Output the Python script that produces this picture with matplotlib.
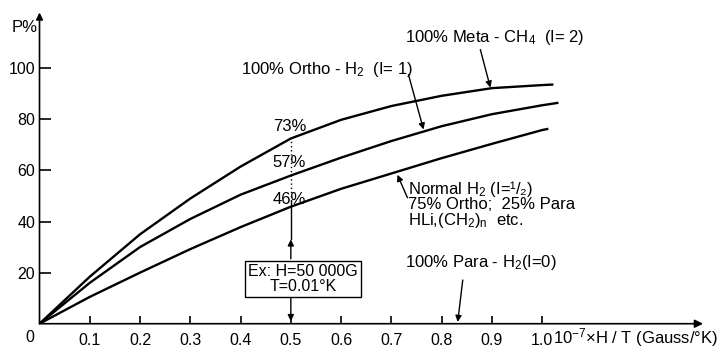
import matplotlib
matplotlib.use("Agg")
import matplotlib.pyplot as plt

plt.rcParams['font.family'] = ['Liberation Sans', 'DejaVu Sans']
plt.rcParams['mathtext.default'] = 'regular'
plt.rcParams['font.size'] = 11

# curves: x = 1e-7 * H/T, P in %
meta_x = [0, 0.1, 0.2, 0.3, 0.4, 0.5, 0.6, 0.7, 0.8, 0.9, 1.0, 1.02]
meta_p = [0, 18.4, 35, 49, 61.5, 72.5, 79.8, 85.2, 89.2, 92.2, 93.4, 93.6]

ortho_x = [0, 0.1, 0.2, 0.3, 0.4, 0.5, 0.6, 0.7, 0.8, 0.9, 1.0, 1.03]
ortho_p = [0, 16, 30, 41, 50.5, 58, 65, 71.5, 77.3, 82, 85.5, 86.4]

normal_x = [0, 0.1, 0.2, 0.3, 0.4, 0.5, 0.6, 0.7, 0.8, 0.9, 1.0, 1.01]
normal_p = [0, 10.5, 20, 29.2, 37.8, 45.8, 52.8, 58.8, 64.8, 70.4, 75.8, 76.2]

xticks = [0.1, 0.2, 0.3, 0.4, 0.5, 0.6, 0.7, 0.8, 0.9, 1.0]
xlabels = ['0.1', '0.2', '0.3', '0.4', '0.5', '0.6', '0.7', '0.8', '0.9', '1.0']
yticks = [20, 40, 60, 80, 100]

fig = plt.figure(figsize=(7.17, 3.5), dpi=100)
ax = fig.add_axes([0.0551, 0.0751, 0.9254, 0.8906])
ax.set_xlim(0, 1.32)
ax.set_ylim(0, 122)
for s in ax.spines.values():
    s.set_visible(False)

lw = 1.7
ax.plot(meta_x, meta_p, color='black', lw=lw)
ax.plot(ortho_x, ortho_p, color='black', lw=lw)
ax.plot(normal_x, normal_p, color='black', lw=lw)

# axes with arrows
ax.annotate('', xy=(1.32, 0), xytext=(0, 0), annotation_clip=False,
            arrowprops=dict(arrowstyle='-|>', lw=1.2, color='black', mutation_scale=12, shrinkA=0, shrinkB=0))
ax.annotate('', xy=(0, 121.8), xytext=(0, 0), annotation_clip=False,
            arrowprops=dict(arrowstyle='-|>', lw=1.2, color='black', mutation_scale=10, shrinkA=0, shrinkB=0))

ax.set_xticks(xticks)
ax.set_xticklabels(xlabels)
ax.set_yticks(yticks)
ax.tick_params(axis='x', direction='in', length=6, width=1.2, pad=7, labelsize=11.5)
ax.tick_params(axis='y', direction='in', length=8, width=1.2, pad=3, labelsize=11.5)

fs = 12
fig.text(30 / 717, 1 - 338 / 350, '0', ha='center', va='center', fontsize=11.5)
fig.text(12 / 717, 1 - 28 / 350, 'P%', va='center', fontsize=fs)
fig.text(553 / 717, 1 - 338 / 350, r'10$^{-7}$×H / T (Gauss/°K)', va='center', fontsize=fs)

arr = dict(arrowstyle='-|>', lw=1, color='black', mutation_scale=9, shrinkA=0, shrinkB=0)

# curve labels
ax.text(0.728, 112, '100% Meta - CH$_4$  (I= 2)', va='center', fontsize=fs)
ax.annotate('', xy=(0.897, 92.4), xytext=(0.877, 107.3), arrowprops=arr)

ax.text(0.4, 99.5, '100% Ortho - H$_2$  (I= 1)', va='center', fontsize=fs)
ax.annotate('', xy=(0.764, 76), xytext=(0.734, 97.5), arrowprops=arr)

ax.text(0.734, 52.6, 'Normal H$_2$ (I=¹/₂)', va='center', fontsize=fs)
ax.text(0.734, 46.5, '75% Ortho;  25% Para', va='center', fontsize=fs)
ax.text(0.734, 40.4, 'HLi,(CH$_2$)$_n$  etc.', va='center', fontsize=fs)
ax.annotate('', xy=(0.712, 58.3), xytext=(0.732, 49.3), arrowprops=arr)

ax.text(0.728, 23.8, '100% Para - H$_2$(I=0)', va='center', fontsize=fs)
ax.annotate('', xy=(0.832, 0.7), xytext=(0.842, 17.1), arrowprops=arr)

# example at H/T = 0.5e7
ax.text(0.524, 17.5, 'Ex: H=50 000G\nT=0.01°K', ha='center', va='center', linespacing=1.05,
        fontsize=11.5, bbox=dict(boxstyle='square,pad=0.2', fc='white', ec='black', lw=1))
ax.annotate('', xy=(0.5, 33), xytext=(0.5, 25.4), arrowprops=arr)
ax.plot([0.5, 0.5], [33, 48], color='black', lw=1)
ax.annotate('', xy=(0.5, 1), xytext=(0.5, 10), arrowprops=arr)
ax.plot([0.5, 0.5], [48, 72.5], color='black', lw=1, ls=(0, (1, 2)))

ax.text(0.497, 77, '73%', ha='center', va='center', fontsize=fs)
ax.text(0.497, 63, '57%', ha='center', va='center', fontsize=fs)
ax.text(0.497, 48.5, '46%', ha='center', va='center', fontsize=fs)

fig.savefig('out.png', dpi=100)
